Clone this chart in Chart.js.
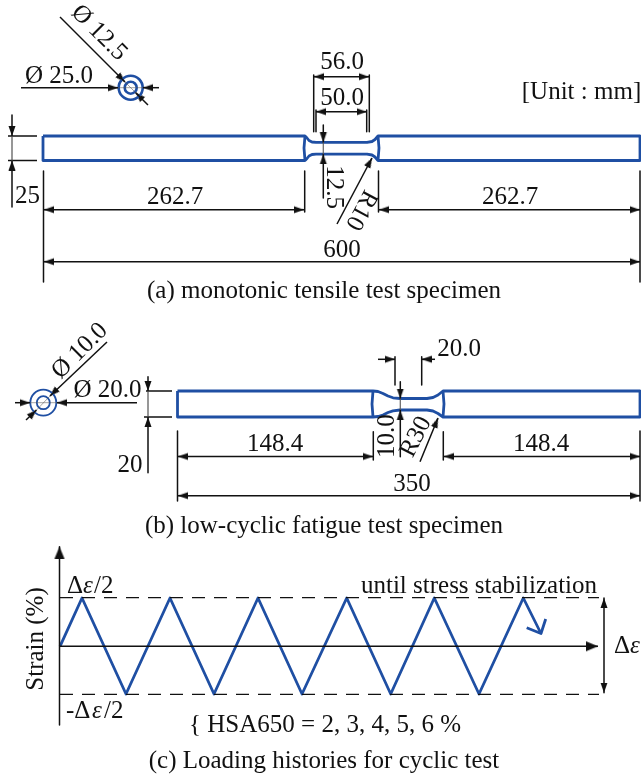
<!DOCTYPE html>
<html>
<head>
<meta charset="utf-8">
<title>Test specimens and loading history</title>
<script src="https://cdn.jsdelivr.net/npm/chart.js@4/dist/chart.umd.min.js"></script>
<style>
  html, body { margin: 0; padding: 0; background: #fff; }
  canvas { display: block; }
</style>
</head>
<body>
<canvas id="grafica" width="641" height="777"></canvas>
<script>

// specimen (a)
const specimenA = [[43,136],[305,136],[307,138],[309,140.5],[312,142],[316,142.3],[367,142.3],[372,141.5],[375,139.5],[378,136],[640,136],[640,160.5],[378,160.5],[375,157],[372,155],[367,154.2],[316,154.2],[312,154.5],[309,156],[307,158.5],[305,160.5],[43,160.5],[43,136]];
const shoulderA1 = [[305,136],[304,148],[305,160.5]];
const shoulderA2 = [[378,136],[379,148],[378,160.5]];

// specimen (b)
const specimenB = [[177.5,391],[373,391],[378,391.5],[383,393.5],[388,396],[393,397.8],[400,398.5],[427,398.5],[433,397.5],[438,395],[443,391],[640,391],[640,417],[443,417],[438,413.5],[433,411],[427,410],[400,410],[393,410.8],[388,412.5],[383,415],[378,416.5],[373,417],[177.5,417],[177.5,391]];
const shoulderB1 = [[373,391],[372,404],[373,417]];
const shoulderB2 = [[443,391],[444,404],[443,417]];

// section circles
const circleA = [[130.7,87.7,12],[130.7,87.7,6]];
const circleB = [[43.3,402.7,13],[43.3,402.7,6.5]];

// loading history (c)
const strainHistory = [[60,646.3],[82,598],[126,694],[170,598],[214,694],[258,598],[302,694],[346.7,598],[390.7,694],[434.3,598],[479,694],[523.3,598],[541,633.5]];
const strainArrow = [[526.7,627.7],[541,633.5],[545.7,619]];
const limitUpper = [[60,597.7],[599,597.7]];
const limitLower = [[60,694.3],[599,694.3]];

// black dimension lines
const dimLines = [
  [[21,87.7],[118,87.7]], [[143,87.7],[159,87.7]],
  [[60,17],[125,82]], [[135.5,92.5],[148,105]],
  [[12,115],[12,136]], [[12,160.5],[12,207]],
  [[8,136],[37,136]], [[8,160.5],[37,160.5]],
  [[43.5,171],[43.5,282]], [[304.7,171],[304.7,212]], [[378.5,171],[378.5,212]], [[640,171],[640,282]],
  [[44,209.7],[304,209.7]], [[379,209.7],[640,209.7]], [[44,261.7],[640,261.7]],
  [[313.7,75],[313.7,131.7]], [[369.3,75],[369.3,131.7]], [[314,76.7],[369,76.7]],
  [[316,110],[316,131.7]], [[366.7,110],[366.7,131.7]], [[316,111.7],[366.7,111.7]],
  [[323.3,125],[323.3,142.3]], [[323.3,154.2],[323.3,198]],
  [[337,224],[372,158]],
  [[15,402.7],[30,402.7]], [[57,402.7],[137,402.7]],
  [[107,342],[50,396]], [[26,420],[36.5,410]],
  [[148,376.7],[148,391]], [[148,417],[148,472.7]],
  [[146,391],[172,391]], [[144,417],[172,417]],
  [[177.5,431],[177.5,501]], [[373.3,431.7],[373.3,460]], [[443.3,431.7],[443.3,460]], [[640,431],[640,501]],
  [[178,456.5],[373,456.5]], [[444,456.5],[640,456.5]], [[178,495.7],[640,495.7]],
  [[395,356.7],[395,385]], [[421.7,356.7],[421.7,385]],
  [[378,359.3],[395,359.3]], [[421.7,359.3],[435,359.3]],
  [[400.3,381.7],[400.3,398.5]], [[400.3,410],[400.3,456.7]],
  [[420,461.7],[438,418]],
  [[59.5,546.7],[59.5,725]], [[59.5,646.3],[598,646.3]], [[604,598],[604,692.7]]
];

// light lines running through the sections and the necks
const centreLines = [
  [[118,87.7],[143,87.7]], [[125,82],[135.5,92.5]],
  [[12,136],[12,160.5]], [[323.3,142.3],[323.3,154.2]],
  [[30,402.7],[57,402.7]], [[50,396],[36.5,410]],
  [[148,391],[148,417]], [[400.3,398.5],[400.3,410]]
];

// arrow heads: tip x, tip y, direction in degrees
const arrowHeads = [
  [118,87.7,0],[143,87.7,180],[125,82,45],[135.5,92.5,225],
  [12,136,90],[12,160.5,270],
  [44,209.7,180],[304,209.7,0],[379,209.7,180],[640,209.7,0],[44,261.7,180],[640,261.7,0],
  [314,76.7,180],[369,76.7,0],[316,111.7,180],[366.7,111.7,0],
  [323.3,142.3,90],[323.3,154.2,270],[372,158,298],
  [30,402.7,0],[57,402.7,180],[50,396,136],[36.5,410,316],
  [148,391,90],[148,417,270],
  [178,456.5,180],[373,456.5,0],[444,456.5,180],[640,456.5,0],[178,495.7,180],[640,495.7,0],
  [395,359.3,0],[421.7,359.3,180],[400.3,398.5,90],[400.3,410,270],[438,418,292],
  [604,598,270],[604,692.7,90]
];
const axisHeads = [[59.5,546.7,270],[598,646.3,0]];

// texts
const labelTexts = ["Ø 12.5","Ø 25.0","56.0","50.0","[Unit : mm]","25","262.7","262.7","12.5","R10","600","(a) monotonic tensile test specimen",
  "Ø 10.0","Ø 20.0","20.0","20","148.4","148.4","10.0","R30","350","(b) low-cyclic fatigue test specimen",
  "until stress stabilization","Strain (%)","{ HSA650 = 2, 3, 4, 5, 6 %","(c) Loading histories for cyclic test"];
const labelX = [99,59,342,342,581.5,27.5,175,510,334,361,342,324, 80,107.5,459,130,275,541,387,416,412,324, 479,36,325,324];
const labelY = [33,83,69,105,99,203,204,204,187,210,257,298, 351,397,356,472,451,451,436,437,490.7,533, 592.7,639,731.7,768];
const labelAngles = [45,0,0,0,0,0,0,0,90,118,0,0, -45,0,0,0,0,0,-90,-63,0,0, 0,-90,0,0];

// strain labels mix upright and italic letters: text, left x, baseline y, italic
const strainLabelTexts = ["Δ","ε","/2","-Δ","ε","/2","Δ","ε"];
const strainLabelX = [67,83,94,66,92,104,614,630];
const strainLabelY = [592.7,592.7,592.7,718,718,718,653,653];
const strainLabelItalic = [false,true,false,false,true,false,false,true];

const azul = "#1f4fa3";
const negro = "#111111";
const fuente = '"Liberation Serif", "Times New Roman", serif';

function toPoints(list) {
  return list.map(p => ({ x: p[0], y: p[1] }));
}

function lineSet(list, color, width, dash) {
  return {
    type: "scatter",
    data: toPoints(list),
    showLine: true,
    borderColor: color,
    borderWidth: width,
    borderDash: dash || [],
    borderJoinStyle: "round",
    borderCapStyle: "butt",
    pointRadius: 0,
    fill: false,
    clip: false
  };
}

// sprite with the tip in the centre, so each point sits on the arrow's tip
function headSprite(len, half) {
  const c = document.createElement("canvas");
  c.width = len * 2;
  c.height = len * 2;
  const g = c.getContext("2d");
  g.fillStyle = negro;
  g.beginPath();
  g.moveTo(len, len);
  g.lineTo(0, len - half);
  g.lineTo(0, len + half);
  g.closePath();
  g.fill();
  return c;
}

function headSet(list, sprite) {
  return {
    type: "scatter",
    data: toPoints(list),
    showLine: false,
    pointStyle: sprite,
    pointRadius: 3,
    pointRotation: list.map(p => p[2]),
    clip: false
  };
}

function circleSet(list, width) {
  return {
    type: "scatter",
    data: toPoints(list),
    showLine: false,
    pointStyle: "circle",
    pointRadius: list.map(p => p[2]),
    pointBackgroundColor: "rgba(0,0,0,0)",
    pointBorderColor: azul,
    pointBorderWidth: width,
    clip: false
  };
}

const textPlugin = {
  id: "textos",
  afterDatasetsDraw(chart) {
    const { ctx, scales } = chart;
    ctx.save();
    ctx.fillStyle = negro;
    ctx.textBaseline = "alphabetic";
    labelTexts.forEach((t, i) => {
      ctx.save();
      ctx.translate(scales.x.getPixelForValue(labelX[i]), scales.y.getPixelForValue(labelY[i]));
      ctx.rotate(labelAngles[i] * Math.PI / 180);
      ctx.font = "25px " + fuente;
      ctx.textAlign = "center";
      ctx.textBaseline = labelAngles[i] === 0 ? "alphabetic" : "middle";
      ctx.fillText(t, 0, 0);
      ctx.restore();
    });
    strainLabelTexts.forEach((t, i) => {
      ctx.font = (strainLabelItalic[i] ? "italic " : "") + "25px " + fuente;
      ctx.textAlign = "left";
      ctx.fillText(t, scales.x.getPixelForValue(strainLabelX[i]), scales.y.getPixelForValue(strainLabelY[i]));
    });
    ctx.restore();
  }
};

const datasets = [
  ...centreLines.map(l => lineSet(l, "rgba(90,90,90,0.55)", 1)),
  ...dimLines.map(l => lineSet(l, negro, 1.5)),
  lineSet(limitUpper, negro, 1.3, [13, 9]),
  lineSet(limitLower, negro, 1.3, [13, 9]),
  lineSet(specimenA, azul, 2.8),
  lineSet(shoulderA1, azul, 2.8),
  lineSet(shoulderA2, azul, 2.8),
  lineSet(specimenB, azul, 2.8),
  lineSet(shoulderB1, azul, 2.8),
  lineSet(shoulderB2, azul, 2.8),
  lineSet(strainHistory, azul, 2.8),
  lineSet(strainArrow, azul, 2.8),
  circleSet(circleA, 2.6),
  circleSet(circleB, 1.8),
  headSet(arrowHeads, headSprite(10, 3.4)),
  headSet(axisHeads, headSprite(12, 5))
];

new Chart(document.getElementById("grafica"), {
  type: "scatter",
  data: { datasets },
  options: {
    responsive: false,
    animation: false,
    layout: { padding: 0, autoPadding: false },
    plugins: { legend: { display: false }, tooltip: { enabled: false } },
    scales: {
      x: { type: "linear", display: false, min: 0, max: 641 },
      y: { type: "linear", display: false, min: 0, max: 777, reverse: true }
    }
  },
  plugins: [textPlugin]
});
</script>
</body>
</html>
